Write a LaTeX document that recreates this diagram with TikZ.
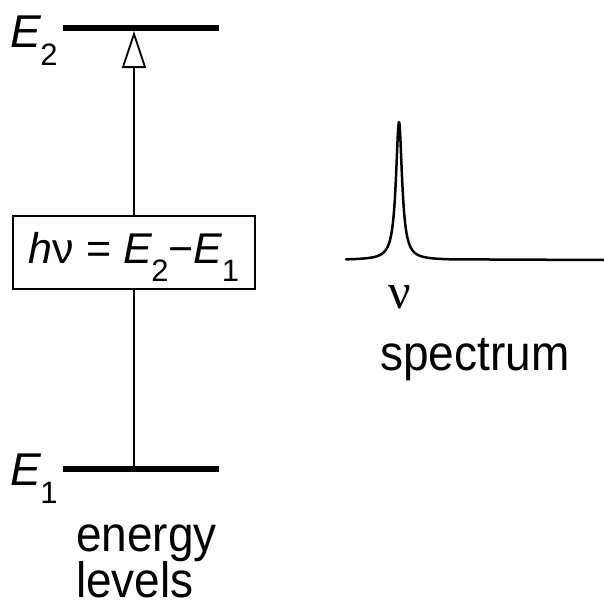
\documentclass[tikz,border=0pt]{standalone}
\usepackage{fontspec}
\setmainfont{Liberation Sans}
\newfontfamily\serifgr{Liberation Serif}
\usetikzlibrary{arrows.meta}
\newcommand{\subs}[1]{\raisebox{-18pt}{\fontsize{31}{33}\selectfont #1}}
\newcommand{\tallt}[1]{\scalebox{1}[1.08]{#1}}
\begin{document}
\begin{tikzpicture}[x=1pt,y=-1pt,
  level/.style={line width=6pt},
  lbl/.style={font=\fontsize{46}{50}\selectfont, inner sep=0pt},
  eq/.style={draw, line width=2.2pt, font=\fontsize{43}{48}\selectfont, inner xsep=0pt, inner ysep=11pt,
    text height=36pt, text depth=15pt, minimum width=242pt, fill=white},
  vline/.style={line width=2pt},
  openarrow/.style={-{Triangle[open, length=37pt, width=24pt, line width=1.8pt]}, line width=2pt}]
\useasboundingbox (0,0) rectangle (604,608);
% energy levels
\coordinate (E2a) at (63,28);
\coordinate (E2b) at (219,28);
\coordinate (E1a) at (63,469);
\coordinate (E1b) at (219,469);
\draw[level] (E2a) -- (E2b);
\draw[level] (E1a) -- (E1b);
\coordinate (bot) at (134,466);
\coordinate (top) at (134,31);
\node[eq] (box) at (134,252.5) {\textit{h}ν = \textit{E}\kern-1pt\subs{2}−\textit{E}\kern-1pt\subs{1}};
\draw[vline] (bot) -- (box.south);
\draw[openarrow] (box.north) -- (top);
\node[lbl, anchor=base west] (lE2) at (10,47) {\textit{E}\kern-1pt\subs{2}};
\node[lbl, anchor=base west] (lE1) at (10,485) {\textit{E}\kern-1pt\subs{1}};
\node[lbl, anchor=base west] (en) at (76,551) {\tallt{energy}};
\node[lbl, anchor=base west] (lv) at (76,597) {\tallt{levels}};
% spectrum
\coordinate (s0) at (346,260);
\coordinate (s1) at (604,260);
\draw[line width=2.5pt, line join=round] (s0) -- plot[domain=346:452, samples=241, smooth] (\x,{260-138*3.7*3.7/((\x-399)*(\x-399)+3.7*3.7)}) -- (s1);
\node[font=\fontsize{50}{54}\serifgr, inner sep=0pt, anchor=base] (nu) at (400,308) {ν};
\node[lbl, anchor=base west] (sp) at (380,370) {\tallt{spectrum}};
\end{tikzpicture}
\end{document}
